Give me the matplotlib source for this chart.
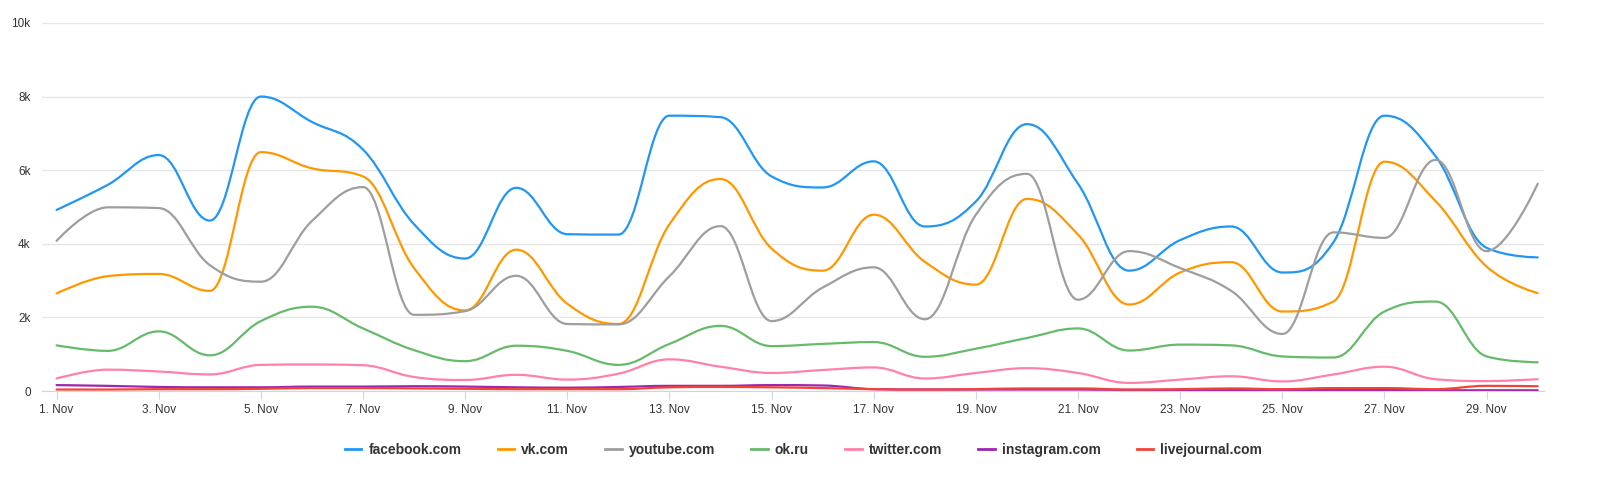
import matplotlib
matplotlib.use("Agg")
import matplotlib.pyplot as plt
from matplotlib.path import Path
from matplotlib.patches import PathPatch
from matplotlib.lines import Line2D
import matplotlib.ticker as plticker

# Daily visits, 1-30 Nov
days = list(range(1, 31))
tick_days = list(range(1, 31, 2))
tick_labels = ["%d. Nov" % d for d in tick_days]

facebook = [4920, 5600, 6410, 4630, 8000, 7310, 6560, 4530, 3600, 5520,
            4260, 4250, 7480, 7440, 5830, 5530, 6240, 4470, 5150, 7250,
            5630, 3270, 4100, 4470, 3220, 4040, 7480, 6380, 3890, 3630]
vk = [2650, 3120, 3180, 2720, 6490, 6050, 5830, 3340, 2190, 3840,
      2370, 1820, 4530, 5760, 3870, 3270, 4790, 3510, 2890, 5220,
      4250, 2350, 3220, 3500, 2160, 2430, 6230, 5160, 3380, 2660]
youtube = [4080, 4990, 4970, 3420, 2970, 4620, 5540, 2070, 2170, 3130,
           1820, 1810, 3120, 4480, 1900, 2810, 3360, 1950, 4790, 5900,
           2480, 3800, 3340, 2720, 1550, 4310, 4160, 6280, 3800, 5630]
okru = [1240, 1090, 1620, 970, 1900, 2290, 1700, 1110, 810, 1230,
        1090, 710, 1280, 1770, 1220, 1280, 1330, 930, 1150, 1440,
        1700, 1100, 1260, 1240, 940, 910, 2160, 2430, 940, 780]
twitter = [340, 580, 530, 450, 710, 720, 700, 380, 300, 440,
           310, 470, 860, 660, 490, 570, 640, 340, 490, 620,
           490, 220, 310, 400, 260, 450, 660, 320, 270, 320]
instagram = [160, 140, 110, 100, 100, 120, 120, 130, 120, 100,
             90, 110, 140, 140, 160, 150, 50, 40, 40, 40,
             40, 30, 30, 30, 30, 30, 30, 20, 20, 20]
livejournal = [40, 40, 50, 50, 60, 80, 80, 70, 60, 50,
               50, 50, 100, 110, 100, 80, 50, 40, 50, 70,
               70, 40, 50, 70, 50, 80, 80, 50, 140, 130]

series = [
    ("facebook.com", facebook, "#2196f3"),
    ("vk.com", vk, "#ff9800"),
    ("youtube.com", youtube, "#9e9e9e"),
    ("ok.ru", okru, "#66bb6a"),
    ("twitter.com", twitter, "#ff80ab"),
    ("instagram.com", instagram, "#9c27b0"),
    ("livejournal.com", livejournal, "#f44336"),
]


def spline_path(xs, ys, smoothing=1.5):
    # same control point rule as a highcharts spline
    denom = smoothing + 1
    n = len(xs)
    left = [(xs[i], ys[i]) for i in range(n)]
    right = [(xs[i], ys[i]) for i in range(n)]
    for i in range(1, n - 1):
        px, py = xs[i], ys[i]
        lx, ly = xs[i - 1], ys[i - 1]
        nx, ny = xs[i + 1], ys[i + 1]
        lcx = (smoothing * px + lx) / denom
        lcy = (smoothing * py + ly) / denom
        rcx = (smoothing * px + nx) / denom
        rcy = (smoothing * py + ny) / denom
        corr = 0
        if rcx != lcx:
            corr = (rcy - lcy) * (rcx - px) / (rcx - lcx) + py - rcy
        lcy += corr
        rcy += corr
        if lcy > ly and lcy > py:
            lcy = max(ly, py)
            rcy = 2 * py - lcy
        elif lcy < ly and lcy < py:
            lcy = min(ly, py)
            rcy = 2 * py - lcy
        if rcy > ny and rcy > py:
            rcy = max(ny, py)
            lcy = 2 * py - rcy
        elif rcy < ny and rcy < py:
            rcy = min(ny, py)
            lcy = 2 * py - rcy
        left[i] = (lcx, lcy)
        right[i] = (rcx, rcy)
    verts = [(xs[0], ys[0])]
    codes = [Path.MOVETO]
    for i in range(1, n):
        verts += [right[i - 1], left[i], (xs[i], ys[i])]
        codes += [Path.CURVE4] * 3
    return Path(verts, codes)


plt.rcParams['font.family'] = ['Liberation Sans', 'DejaVu Sans']

fig = plt.figure(figsize=(16.07, 4.78), dpi=100)
ax = fig.add_axes([0.026, 0.182, 0.935, 0.770])

handles = []
for name, vals, col in series:
    p = spline_path(days, vals)
    ax.add_patch(PathPatch(p, fill=False, edgecolor=col, lw=1.6, capstyle='round', joinstyle='round'))
    handles.append(Line2D([], [], color=col, lw=2, label=name))

ax.set_xlim(0.71, 30.13)
ax.set_ylim(0, 10000)
ax.set_yticks([0, 2000, 4000, 6000, 8000, 10000])
ax.yaxis.set_major_formatter(plticker.FuncFormatter(lambda v, p: "0" if v == 0 else "%dk" % (v / 1000)))
ax.set_xticks(tick_days)
ax.set_xticklabels(tick_labels)

ax.grid(axis='y', color='#e6e6e6', lw=1)
ax.set_axisbelow(True)
for s in ['top', 'right', 'left']:
    ax.spines[s].set_visible(False)
ax.spines['bottom'].set_color('#ccd6eb')
ax.tick_params(axis='y', length=0, labelsize=8.5, labelcolor='#333333', pad=8)
ax.tick_params(axis='x', length=6, color='#ccd6eb', labelsize=8.5, labelcolor='#333333', pad=3)

leg = fig.legend(handles=handles, loc='center', bbox_to_anchor=(0.5, 0.058), ncol=7,
                 frameon=False, handlelength=1.2, handletextpad=0.5, columnspacing=2.6,
                 prop={'size': 10, 'weight': 'bold'})
for t in leg.get_texts():
    t.set_color('#333333')

fig.savefig("out.png", dpi=100)
